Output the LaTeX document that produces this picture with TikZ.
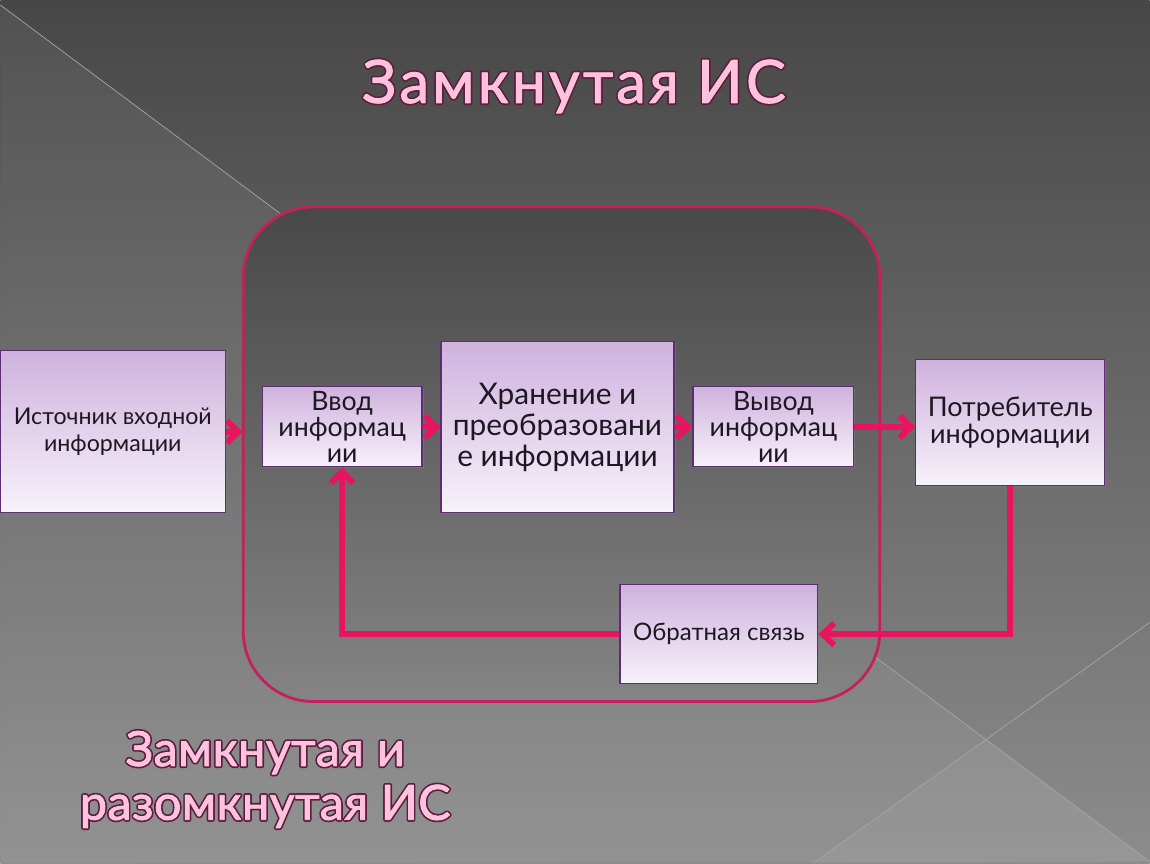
\documentclass[tikz,border=0pt]{standalone}
\usepackage{fontspec}
\setmainfont{Lato}
\usepackage{tikz}
\usetikzlibrary{arrows.meta, positioning, calc, shadows}

\definecolor{bgtop}{RGB}{71, 71, 71}
\definecolor{bgmid}{RGB}{86, 86, 86}
\definecolor{bgbot}{RGB}{140, 140, 140}
\definecolor{arrowred}{RGB}{232, 20, 96}
\definecolor{framered}{RGB}{196, 32, 96}
\definecolor{boxtop}{RGB}{207, 178, 222}
\definecolor{boxbot}{RGB}{247, 242, 250}
\definecolor{boxedge}{RGB}{92, 45, 112}
\definecolor{boxtext}{RGB}{30, 24, 34}
\definecolor{titlepink}{RGB}{255, 194, 222}
\definecolor{titleedge}{RGB}{92, 30, 62}

% pink text with a dark rim: a wide dark stroke under a slightly emboldened pink copy
\newcommand{\rimtext}[1]{%
  \makebox[0pt][l]{\color{titleedge}\special{pdf:literal direct 2 Tr 2.4 w 1 j}#1\special{pdf:literal direct 0 Tr 0.4 w 0 j}}%
  \special{pdf:literal direct 2 Tr 0.5 w 1 j}#1\special{pdf:literal direct 0 Tr 0.4 w 0 j}}

\begin{document}
\begin{tikzpicture}[
  x=0.02cm, y=-0.02cm,
  infobox/.style={draw=boxedge, line width=0.7pt, top color=boxtop, bottom color=boxbot, align=center, text=boxtext, inner sep=2pt, font=\fontsize{13.2}{15.8}\selectfont, drop shadow={opacity=0.45, shadow xshift=0.9pt, shadow yshift=-0.9pt}},
  flowarrow/.style={draw=arrowred, line width=3.4pt, -{Straight Barb[length=6.5pt, width=12.5pt]}},
  pinktitle/.style={text=titlepink, align=center, inner sep=0pt}
]
  % Background
  \shade[top color=bgtop, middle color=bgmid, bottom color=bgbot] (0,0) rectangle (1150,864);
  \fill[white, opacity=0.06] (0,5) -- (1150,862) -- (0,864) -- cycle;
  \fill[white, opacity=0.05] (813,864) -- (987,740) -- (1150,862) -- cycle;
  \draw[gray!70, line width=0.4pt] (0,5) -- (1150,862);
  \draw[gray!70, line width=0.4pt] (813,864) -- (1150,623);
  \useasboundingbox (0,0) rectangle (1150,864);

  % Title
  \node[pinktitle, anchor=base, font=\fontsize{34}{36}\selectfont\addfontfeatures{LetterSpace=5.5}] (title) at (574,103) {\rimtext{Замкнутая ИС}};

  % Closed system frame
  \node[draw=framered, line width=1.6pt, rounded corners=1.4cm, minimum width=12.74cm, minimum height=9.9cm, top color=bgtop!92!bgmid, bottom color=bgbot!85!bgmid] (frame) at (561.5,454.5) {};

  % Blocks
  \node[infobox, minimum width=4.5cm, minimum height=3.24cm] (src) at (112.5,432) {Источник входной\\информации};
  \node[infobox, minimum width=3.2cm, minimum height=1.6cm, font=\fontsize{15.2}{14.8}\selectfont] (vvod) at (342,427) {Ввод\\информац\\ии};
  \node[infobox, minimum width=4.66cm, minimum height=3.42cm, font=\fontsize{17}{17.6}\selectfont] (stor) at (557.5,427.5) {Хранение и\\преобразовани\\е информации};
  \node[infobox, minimum width=3.22cm, minimum height=1.6cm, font=\fontsize{15.2}{14.8}\selectfont] (vyvod) at (773.5,427) {Вывод\\информац\\ии};
  \node[infobox, minimum width=3.78cm, minimum height=2.52cm, font=\fontsize{15.4}{15.3}\selectfont] (cons) at (1010.5,423) {Потребитель\\информации};
  \node[infobox, minimum width=3.96cm, minimum height=1.98cm, font=\fontsize{13.7}{16}\selectfont] (fb) at (719,634.5) {Обратная связь};

  % Connectors
  \draw[flowarrow, shorten >=0.38cm] (src.east) -- (vvod.west |- src.east);
  \draw[flowarrow] (vvod) -- (stor);
  \draw[flowarrow] (stor) -- (vyvod);
  \draw[flowarrow] (vyvod.east) -- (cons.west |- vyvod.east);
  \draw[flowarrow] (cons.south) |- (fb.east);
  \draw[flowarrow] (fb.west) -| (vvod.south);

  % Subtitle
  \node[pinktitle, font=\fontsize{27.5}{30.6}\selectfont\addfontfeatures{LetterSpace=1}] (subtitle) at (265,780) {\rimtext{Замкнутая и}\\\rimtext{разомкнутая ИС}};
\end{tikzpicture}
\end{document}
